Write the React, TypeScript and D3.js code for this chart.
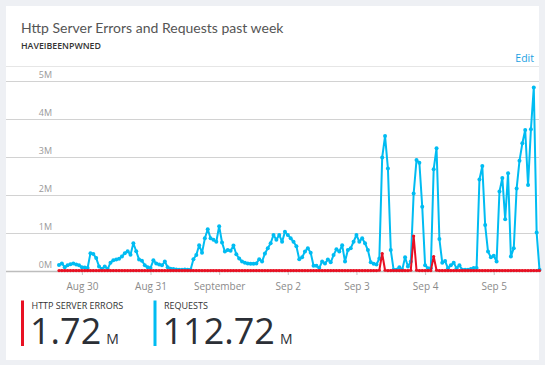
import React, { useEffect, useRef } from 'react';
import * as d3 from 'd3';

// hourly samples, first one at Aug 29 16:00
const startTime = new Date(2016, 7, 29, 16);

// requests per hour, in millions
const requests = [
    0.16, 0.2, 0.1, 0.15, 0.18, 0.2, 0.17, 0.15, 0.1, 0.09,
    0.08, 0.47, 0.45, 0.34, 0.12, 0.05, 0.12, 0.05, 0.22, 0.28,
    0.3, 0.32, 0.38, 0.47, 0.52, 0.43, 0.73, 0.52, 0.3, 0.27,
    0.15, 0.1, 0.08, 0.28, 0.2, 0.17, 0.15, 0.25, 0.1, 0.06,
    0.05, 0.04, 0.03, 0.03, 0.04, 0.03, 0.03, 0.31, 0.42, 0.68,
    0.48, 0.86, 1.1, 0.86, 0.82, 0.77, 1.18, 0.75, 0.51, 0.55,
    0.53, 0.67, 0.44, 0.33, 0.25, 0.22, 0.2, 0.19, 0.19, 0.2,
    0.31, 0.25, 0.46, 0.6, 0.73, 0.95, 0.82, 0.95, 0.77, 1.03,
    0.95, 0.86, 0.77, 0.65, 0.31, 0.36, 0.51, 0.6, 0.48, 0.14,
    0.14, 0.08, 0.25, 0.2, 0.3, 0.23, 0.42, 0.57, 0.51, 0.68,
    0.25, 0.55, 0.6, 0.77, 0.95, 0.77, 0.86, 0.73, 0.55, 0.23,
    0.19, 0.17, 0.33, 2.99, 3.55, 2.7, 0.55, 0.03, 0.03, 0.1,
    0.03, 0.36, 0.12, 0.25, 2.04, 2.92, 2.85, 1.69, 0.15, 0.07,
    0.07, 2.68, 3.23, 0.84, 0.22, 0.26, 0.07, 0.15, 0.22, 0.07,
    0.15, 0.03, 0.03, 0.03, 0.05, 0.08, 0.08, 2.41, 2.76, 1.21,
    0.51, 0.36, 0.4, 0.25, 2.09, 2.45, 1.36, 2.57, 0.38, 0.6,
    2.17, 2.9, 3.36, 3.71, 2.26, 3.73, 4.83, 1.01, 0.03,
];

// http server errors per hour, in millions
const errors = [
    0.01, 0.01, 0.01, 0.01, 0.01, 0.01, 0.01, 0.01, 0.01, 0.01,
    0.01, 0.01, 0.01, 0.01, 0.01, 0.01, 0.01, 0.01, 0.01, 0.01,
    0.01, 0.01, 0.01, 0.01, 0.01, 0.01, 0.01, 0.01, 0.01, 0.01,
    0.01, 0.01, 0.01, 0.01, 0.01, 0.01, 0.01, 0.01, 0.01, 0.01,
    0.01, 0.01, 0.01, 0.01, 0.01, 0.01, 0.01, 0.01, 0.01, 0.01,
    0.01, 0.01, 0.01, 0.01, 0.01, 0.01, 0.01, 0.01, 0.01, 0.01,
    0.01, 0.01, 0.01, 0.01, 0.01, 0.01, 0.01, 0.01, 0.01, 0.01,
    0.01, 0.01, 0.01, 0.01, 0.01, 0.01, 0.01, 0.01, 0.01, 0.01,
    0.01, 0.01, 0.01, 0.01, 0.01, 0.01, 0.01, 0.01, 0.01, 0.01,
    0.01, 0.01, 0.01, 0.01, 0.01, 0.01, 0.01, 0.01, 0.01, 0.01,
    0.01, 0.01, 0.01, 0.01, 0.01, 0.01, 0.01, 0.01, 0.01, 0.01,
    0.01, 0.01, 0.02, 0.46, 0.02, 0.01, 0.01, 0.01, 0.01, 0.01,
    0.01, 0.01, 0.01, 0.02, 0.92, 0.02, 0.01, 0.01, 0.01, 0.01,
    0.01, 0.38, 0.02, 0.01, 0.01, 0.01, 0.01, 0.01, 0.01, 0.01,
    0.01, 0.01, 0.01, 0.01, 0.01, 0.01, 0.01, 0.01, 0.01, 0.01,
    0.01, 0.01, 0.01, 0.01, 0.01, 0.01, 0.01, 0.01, 0.01, 0.01,
    0.01, 0.01, 0.01, 0.01, 0.01, 0.01, 0.01, 0.01, 0.01,
];

const yTicks = [0, 1, 2, 3, 4, 5];
const seriesNames = ['HTTP SERVER ERRORS', 'REQUESTS'];
const seriesTotals = ['1.72', '112.72'];
const seriesColors = ['#e81123', '#00bcf2'];

const FONT = '"Open Sans", "Noto Sans", sans-serif';
const TITLE_FONT = 'Lato, "Open Sans", sans-serif';

function drawChart(svgRoot: SVGSVGElement) {
    const svg = d3.select(svgRoot);
    svg.selectChildren().remove();

    const width = 545;
    const height = 365;
    const card = { left: 6, top: 6, right: 539, bottom: 360 };

    svg.attr('width', width).attr('height', height)
        .attr('viewBox', [0, 0, width, height] as any)
        .style('font-family', FONT);

    svg.append('rect').attr('width', width).attr('height', height).attr('fill', '#eef0f4');
    svg.append('rect')
        .attr('x', card.left).attr('y', card.top)
        .attr('width', card.right - card.left).attr('height', card.bottom - card.top)
        .attr('fill', '#ffffff');

    // header
    svg.append('text').attr('x', 21).attr('y', 33)
        .attr('font-family', TITLE_FONT)
        .attr('font-size', 14).attr('fill', '#555')
        .text('Http Server Errors and Requests past week');
    svg.append('text').attr('x', 21).attr('y', 48.5)
        .attr('font-size', 8.8).attr('font-weight', 600).attr('fill', '#333')
        .text('HAVEIBEENPWNED');
    svg.append('text').attr('x', 534).attr('y', 62).attr('text-anchor', 'end')
        .attr('font-size', 10.5).attr('fill', '#1ba1e2')
        .text('Edit');
    svg.append('line')
        .attr('x1', card.left).attr('x2', card.right).attr('y1', 66.5).attr('y2', 66.5)
        .attr('stroke', '#e6e6e6');

    const hours = requests.map((_, i) => d3.timeHour.offset(startTime, i));
    const x = d3.scaleTime().domain([hours[0], hours[hours.length - 1]]).range([59, 539.5]);
    const y = d3.scaleLinear().domain([0, 5]).range([271, 81]);

    // grid + y labels
    const grid = svg.append('g');
    grid.selectAll('line').data(yTicks).enter().append('line')
        .attr('x1', card.left).attr('x2', card.right)
        .attr('y1', (d) => Math.round(y(d)) + 0.5).attr('y2', (d) => Math.round(y(d)) + 0.5)
        .attr('stroke', (d) => (d === 0 ? '#bdbdbd' : '#d2d2d2'))
        .attr('stroke-width', (d) => (d === 0 ? 1.5 : 1));
    grid.selectAll('text').data(yTicks).enter().append('text')
        .attr('x', 52).attr('y', (d) => y(d) - 3)
        .attr('text-anchor', 'end').attr('font-size', 9).attr('fill', '#9a9a9a')
        .text((d) => d + 'M');

    // x axis
    const fmtMonth = d3.timeFormat('%B');
    const fmtDay = d3.timeFormat('%b %-d');
    const xAxis = svg.append('g')
        .attr('transform', `translate(0,${y(0)})`)
        .call(d3.axisBottom(x)
            .ticks(d3.timeDay.every(1))
            .tickSizeInner(4).tickSizeOuter(0).tickPadding(8)
            .tickFormat((d: any) => (d.getDate() === 1 ? fmtMonth(d) : fmtDay(d))));
    xAxis.select('.domain').remove();
    xAxis.selectAll('line').attr('stroke', '#c4c4c4');
    xAxis.selectAll('text').attr('fill', '#8a8a8a').attr('font-size', 10).attr('font-family', FONT);

    // series
    const lineGen = d3.line<number>()
        .x((d, i) => x(hours[i]))
        .y((d) => y(d));

    [requests, errors].forEach((values, k) => {
        const color = seriesColors[1 - k];
        const g = svg.append('g');
        g.append('path')
            .datum(values)
            .attr('fill', 'none')
            .attr('stroke', color)
            .attr('stroke-width', 2)
            .attr('stroke-linejoin', 'round')
            .attr('d', lineGen);
        g.selectAll('circle').data(values).enter().append('circle')
            .attr('cx', (d, i) => x(hours[i]))
            .attr('cy', (d) => y(d))
            .attr('r', k === 0 ? 2 : 1.6)
            .attr('fill', color);
    });

    // legend totals
    const legendX = [21, 153.5];
    seriesNames.forEach((name, i) => {
        const lx = legendX[i];
        const g = svg.append('g');
        g.append('rect').attr('x', lx).attr('y', 300.5).attr('width', 3).attr('height', 45.5)
            .attr('fill', seriesColors[i]);
        g.append('text').attr('x', lx + 10.5).attr('y', 309)
            .attr('font-size', 9).attr('fill', '#333')
            .text(name);
        const big = g.append('text').attr('x', lx + 9).attr('y', 343.5)
            .attr('fill', '#2b2f36');
        big.append('tspan').attr('font-size', 36).attr('font-weight', 400).text(seriesTotals[i]);
        big.append('tspan').attr('font-size', 14).attr('dx', 5).text('M');
    });
}

function ChartCard() {
    const svgRef = useRef<SVGSVGElement>(null);

    useEffect(() => {
        svgRef.current && drawChart(svgRef.current);
    }, []);

    return <svg ref={svgRef} style={{ display: 'block' }}></svg>;
}

export default function App() {
    return (
        <div style={{ position: 'fixed', left: 0, top: 0 }}>
            <ChartCard />
        </div>
    );
}
